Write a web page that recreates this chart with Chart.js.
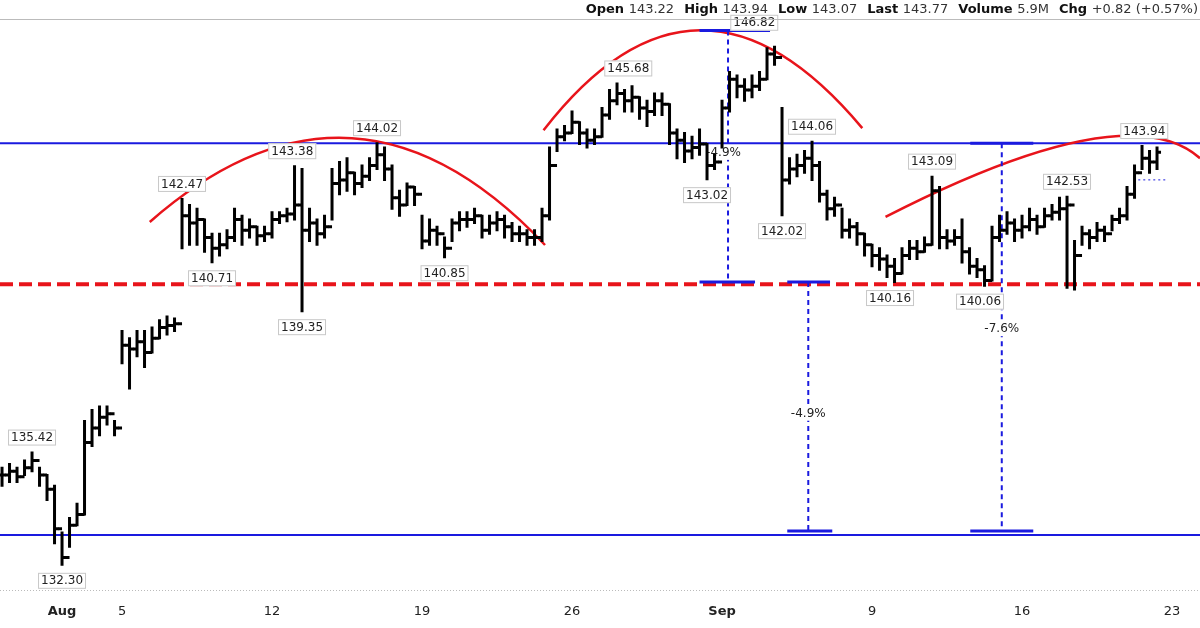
<!DOCTYPE html>
<html><head><meta charset="utf-8">
<script src="https://cdn.jsdelivr.net/npm/chart.js@4/dist/chart.umd.min.js"></script>
<style>html,body{margin:0;padding:0;background:#fff}#w{width:1200px;height:628px}</style>
</head><body><div id="w"><canvas id="c"></canvas></div>
<script>
// Intraday OHLC (open = previous close)
const closes=[134.8,134.9,134.75,135.0,135.2,134.8,134.4,133.3,132.5,133.4,
133.7,135.7,136.1,136.4,136.5,136.1,138.4,138.3,138.5,138.2,
138.6,138.9,138.95,139.0,142.0,141.8,141.9,141.4,141.1,141.2,
141.4,141.9,141.6,141.7,141.45,141.5,141.9,142.0,142.05,142.3,
141.6,141.8,141.5,141.7,142.9,143.0,143.2,142.9,143.1,143.4,
143.7,143.3,142.5,142.3,142.8,142.6,141.3,141.6,141.5,141.1,
141.8,141.9,141.9,142.0,141.6,141.8,141.9,141.7,141.5,141.5,
141.4,141.4,142.0,143.4,144.2,144.3,144.6,144.3,144.1,144.2,
144.8,145.2,145.4,145.2,145.3,145.0,144.9,145.2,145.1,144.3,
144.1,143.8,143.9,144.0,143.4,143.5,145.0,145.8,145.6,145.5,
145.6,145.8,146.5,146.4,143.0,143.3,143.4,143.6,143.4,142.6,
142.2,142.3,141.6,141.7,141.5,141.2,140.9,140.8,140.6,140.4,
140.9,141.1,141.0,141.2,142.7,141.4,141.3,141.4,141.0,140.6,
140.5,140.2,141.4,141.6,141.8,141.6,141.7,141.9,141.7,142.0,
142.1,142.2,142.3,140.9,141.5,141.4,141.6,141.5,141.9,142.0,
142.6,143.2,143.6,143.5,143.77];
const highs=[135.0,135.1,135.0,135.2,135.42,135.0,134.8,134.5,133.2,133.6,
134.0,136.3,136.6,136.7,136.7,136.3,138.8,138.6,138.8,138.8,
138.9,139.1,139.2,139.15,142.47,142.3,142.2,141.9,141.5,141.5,
141.6,142.2,142.0,141.9,141.7,141.7,142.1,142.1,142.2,143.38,
143.3,142.2,141.9,142.0,143.3,143.5,143.6,143.2,143.4,143.6,
144.02,143.9,143.4,142.7,142.9,142.8,142.0,141.9,141.7,141.4,
141.9,142.1,142.1,142.2,142.0,142.0,142.1,142.0,141.8,141.7,
141.6,141.6,142.2,143.9,144.4,144.5,144.9,144.6,144.4,144.4,
145.0,145.5,145.68,145.5,145.6,145.3,145.2,145.4,145.4,145.1,
144.4,144.3,144.2,144.4,144.0,143.7,145.2,146.0,145.9,145.8,
145.9,146.0,146.66,146.7,145.0,143.6,143.7,143.8,144.06,143.5,
142.7,142.5,142.2,141.9,141.8,141.5,141.2,141.1,140.9,140.8,
141.1,141.3,141.3,141.4,143.09,142.8,141.6,141.6,141.9,141.1,
140.8,140.6,141.7,142.0,142.1,141.9,142.0,142.2,142.0,142.2,
142.3,142.5,142.53,141.3,141.7,141.6,141.8,141.7,142.0,142.2,
142.8,143.4,143.94,143.8,143.9];
const lows=[134.5,134.6,134.6,134.8,134.9,134.5,134.1,132.9,132.3,132.8,
133.4,133.7,135.6,135.9,136.2,135.9,137.9,137.2,138.1,137.8,
138.2,138.6,138.7,138.8,141.1,141.2,141.2,141.0,140.71,140.9,
141.1,141.3,141.2,141.4,141.2,141.3,141.4,141.8,141.85,141.9,
139.35,141.3,141.2,141.4,141.9,142.6,142.7,142.6,142.8,143.0,
143.3,143.0,142.2,142.0,142.3,142.3,141.1,141.2,141.2,140.85,
141.3,141.6,141.7,141.8,141.4,141.5,141.6,141.4,141.3,141.3,
141.2,141.2,141.3,141.9,143.8,144.1,144.3,144.0,143.9,144.0,
144.2,144.7,145.1,144.9,144.9,144.7,144.5,144.8,144.8,144.0,
143.6,143.5,143.6,143.7,143.02,143.3,143.9,144.9,145.3,145.2,
145.3,145.5,145.8,146.2,142.02,142.9,143.1,143.2,143.0,142.4,
141.9,142.0,141.4,141.4,141.2,140.9,140.6,140.5,140.3,140.16,
140.4,140.8,140.8,141.0,141.2,141.1,141.1,141.2,140.7,140.4,
140.3,140.06,140.2,141.3,141.5,141.3,141.4,141.6,141.5,141.7,
141.9,141.9,140.0,139.95,141.2,141.1,141.3,141.3,141.6,141.8,
141.9,142.5,143.3,143.2,143.3];
const tickPos=[8,16,36,56,76,96,116,136,156];
const tickLabels=['Aug','5','12','19','26','Sep','9','16','23'];
// annotations in data units [barIndex, price]
const hLines=[{p:144.02,color:'#1a1adf',w:2,dash:[]},{p:133.13,color:'#1a1adf',w:2,dash:[]},{p:140.1,color:'#e8141b',w:4,dash:[13,6]}];
const arcs=[[[19.7,141.83],[46.5,144.16],[72.4,141.19]],[[72.2,144.38],[93.1,147.16],[114.7,144.44]],[[117.8,141.97],[144.4,144.1],[159.73,143.6]]];
const vMeasures=[{x:96.8,p1:147.15,p2:140.16,c1:[93.0,102.4],c2:[93.0,100.4],txt:'-4.9%',tp:143.75,tx:96.2},
{x:107.5,p1:140.16,p2:133.24,c1:[104.7,110.4],c2:[104.7,110.7],txt:'-4.9%',tp:136.5,tx:107.5},
{x:133.3,p1:144.02,p2:133.24,c1:[129.1,137.5],c2:[129.1,137.5],txt:'-7.6%',tp:138.85,tx:133.3}];
const priceLabels=[[4,135.42,'135.42',1],[8,132.30,'132.30',0],[24,142.47,'142.47',1],[28,140.71,'140.71',0],[38.7,143.38,'143.38',1],[40,139.35,'139.35',0],[50,144.02,'144.02',1],[59,140.85,'140.85',0],[83.5,145.68,'145.68',1],[100.3,146.95,'146.82',1],[94,143.02,'143.02',0],[108,144.06,'144.06',1],[104,142.02,'142.02',0],[124,143.09,'143.09',1],[118.4,140.16,'140.16',0],[130.4,140.06,'140.06',0],[142,142.53,'142.53',1],[152.3,143.94,'143.94',1]];
const header=[['Open','143.22'],['High','143.94'],['Low','143.07'],['Last','143.77'],['Volume','5.9M'],['Chg','+0.82 (+0.57%)']];

const F='"DejaVu Sans", Verdana, sans-serif';
const plug={id:'ohlc',afterDatasetsDraw(ch){
 const c=ch.ctx,xs=ch.scales.x,ys=ch.scales.y,X=v=>xs.getPixelForValue(v),Y=v=>ys.getPixelForValue(v);
 const L=ch.chartArea.left,R=ch.chartArea.right;
 c.save();
 hLines.forEach(h=>{c.beginPath();c.strokeStyle=h.color;c.lineWidth=h.w;c.setLineDash(h.dash);c.moveTo(L,Y(h.p));c.lineTo(R,Y(h.p));c.stroke();});
 c.setLineDash([]);
 arcs.forEach(a=>{const p=a.map(q=>[X(q[0]),Y(q[1])]);const cx=2*p[1][0]-(p[0][0]+p[2][0])/2,cy=2*p[1][1]-(p[0][1]+p[2][1])/2;
  c.beginPath();c.strokeStyle='#e8141b';c.lineWidth=2.5;c.moveTo(p[0][0],p[0][1]);c.quadraticCurveTo(cx,cy,p[2][0],p[2][1]);c.stroke();});
 vMeasures.forEach(m=>{c.strokeStyle='#1a1adf';c.lineWidth=2;c.setLineDash([5,4]);c.beginPath();c.moveTo(X(m.x),Y(m.p1));c.lineTo(X(m.x),Y(m.p2));c.stroke();
  c.setLineDash([]);c.lineWidth=3;c.beginPath();c.moveTo(X(m.c1[0]),Y(m.p1));c.lineTo(X(m.c1[1]),Y(m.p1));c.moveTo(X(m.c2[0]),Y(m.p2));c.lineTo(X(m.c2[1]),Y(m.p2));c.stroke();
  c.font='12px '+F;c.textAlign='center';c.textBaseline='middle';c.fillStyle='#fff';const tw=c.measureText(m.txt).width;c.fillRect(X(m.tx)-tw/2-1,Y(m.tp)-7,tw+2,14);c.fillStyle='#222';c.fillText(m.txt,X(m.tx),Y(m.tp));});
 c.setLineDash([2,3]);c.lineWidth=1;c.strokeStyle='#1a1adf';c.beginPath();c.moveTo(X(151.5),Y(143.0));c.lineTo(X(155.5),Y(143.0));c.stroke();c.setLineDash([]);
 c.strokeStyle='#000';c.lineWidth=3;
 closes.forEach((cl,i)=>{const x=X(i),o=i?closes[i-1]:cl;c.beginPath();c.moveTo(x,Y(highs[i])-1);c.lineTo(x,Y(lows[i])+1);c.moveTo(x-4,Y(o));c.lineTo(x,Y(o));c.moveTo(x,Y(cl));c.lineTo(x+4,Y(cl));c.stroke();});
 c.font='12px '+F;c.textBaseline='middle';c.textAlign='center';
 priceLabels.forEach(l=>{const x=X(l[0]),yb=Y(l[1]),y=l[3]?yb-15:yb+16;const w=c.measureText(l[2]).width+6;
  c.fillStyle='#fff';c.strokeStyle='#c8c8c8';c.lineWidth=1;c.fillRect(x-w/2,y-8,w,16);c.strokeRect(x-w/2+.5,y-7.5,w-1,15);
  c.fillStyle='#222';c.fillText(l[2],x,y+0.5);});
 // header
 c.textAlign='left';let parts=[],tot=0;header.forEach(h=>{c.font='bold 13px '+F;const a=c.measureText(h[0]+' ').width;c.font='13px '+F;const b=c.measureText(h[1]).width;parts.push([h,a,b]);tot+=a+b+10;});
 let x=1198-tot+10;parts.forEach(pp=>{c.font='bold 13px '+F;c.fillStyle='#111';c.fillText(pp[0][0],x,10);x+=pp[1];c.font='13px '+F;c.fillStyle='#333';c.fillText(pp[0][1],x,10);x+=pp[2]+10;});
 c.strokeStyle='#bbb';c.lineWidth=1;c.beginPath();c.moveTo(0,19.5);c.lineTo(1200,19.5);c.stroke();
 c.setLineDash([1,2]);c.beginPath();c.moveTo(0,Y(131.6)+0.5);c.lineTo(1200,Y(131.6)+0.5);c.stroke();
 c.restore();}};
new Chart(document.getElementById('c'),{type:'line',
 data:{datasets:[{data:closes.map((v,i)=>({x:i,y:v})),showLine:false,pointRadius:0}]},
 options:{responsive:true,maintainAspectRatio:false,animation:false,events:[],
  layout:{padding:0},
  plugins:{legend:{display:false},tooltip:{enabled:false}},
  scales:{
   x:{type:'linear',min:-0.27,max:159.73,grid:{display:false},border:{display:false},
    afterBuildTicks:s=>{s.ticks=tickPos.map(v=>({value:v}));},
    afterFit:s=>{s.height=38;},
    ticks:{autoSkip:false,maxRotation:0,padding:6,color:'#222',callback:(v)=>tickLabels[tickPos.indexOf(v)],
     font:(ctx)=>({family:F,size:13,weight:(ctx.tick&&(ctx.tick.value===8||ctx.tick.value===96))?'bold':'normal'})}},
   y:{min:131.6,max:148,display:false}}},
 plugins:[plug]});
</script></body></html>
